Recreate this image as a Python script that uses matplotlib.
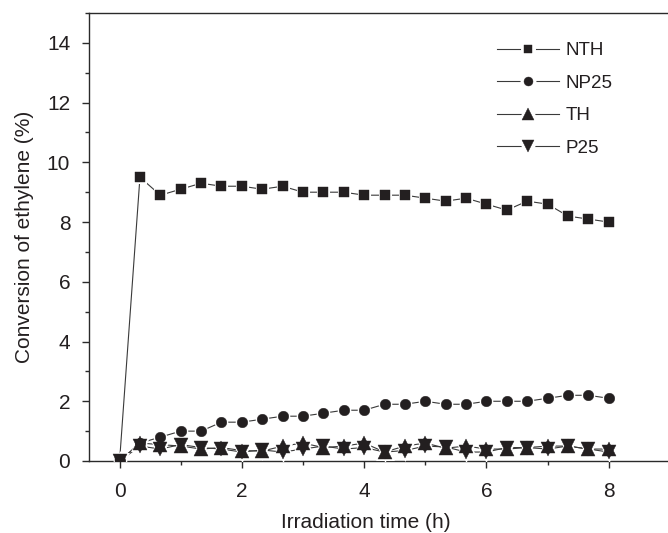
import numpy as np
import matplotlib
matplotlib.use("Agg")
import matplotlib.pyplot as plt
from matplotlib.lines import Line2D
from matplotlib.ticker import MultipleLocator

plt.rcParams['font.family'] = ['Liberation Sans', 'DejaVu Sans']

# irradiation time (h), one sample every 20 min
time_h = [0, 1/3, 2/3, 1, 4/3, 5/3, 2, 7/3, 8/3, 3, 10/3, 11/3, 4,
          13/3, 14/3, 5, 16/3, 17/3, 6, 19/3, 20/3, 7, 22/3, 23/3, 8]

nth = [0.0, 9.5, 8.9, 9.1, 9.3, 9.2, 9.2, 9.1, 9.2, 9.0, 9.0, 9.0, 8.9,
       8.9, 8.9, 8.8, 8.7, 8.8, 8.6, 8.4, 8.7, 8.6, 8.2, 8.1, 8.0]
np25 = [0.0, 0.6, 0.8, 1.0, 1.0, 1.3, 1.3, 1.4, 1.5, 1.5, 1.6, 1.7, 1.7,
        1.9, 1.9, 2.0, 1.9, 1.9, 2.0, 2.0, 2.0, 2.1, 2.2, 2.2, 2.1]
th = [0.0, 0.6, 0.55, 0.5, 0.4, 0.45, 0.35, 0.33, 0.5, 0.6, 0.45, 0.5, 0.6,
      0.3, 0.5, 0.6, 0.43, 0.5, 0.4, 0.4, 0.45, 0.5, 0.5, 0.4, 0.4]
p25 = [0.0, 0.5, 0.4, 0.55, 0.45, 0.4, 0.3, 0.37, 0.3, 0.4, 0.5, 0.4, 0.45,
       0.3, 0.35, 0.5, 0.47, 0.3, 0.3, 0.45, 0.45, 0.4, 0.5, 0.4, 0.3]

series = [("NTH", nth, 's', 7.0),
          ("NP25", np25, 'o', 7.6),
          ("TH", th, '^', 9.5),
          ("P25", p25, 'v', 9.5)]

ink = '#231f20'
line_col = '#3a3a3a'

fig = plt.figure(figsize=(6.68, 5.33), dpi=100)
ax = fig.add_axes([89/668, 72/533, 1 - 89/668, 448/533])

# connecting lines first
for name, vals, mk, ms in series:
    ax.plot(time_h, vals, '-', color=line_col, lw=0.8, zorder=2)
# white rings leave a small gap between line and marker
for name, vals, mk, ms in series:
    ax.plot(time_h, vals, ls='none', marker=mk, ms=ms, mfc=ink,
            mec='white', mew=2.2, zorder=3)
# solid markers on top so overlapping symbols merge
for name, vals, mk, ms in series:
    ax.plot(time_h, vals, ls='none', marker=mk, ms=ms, mfc=ink,
            mec=ink, mew=0.3, zorder=4)

ax.set_xlim(-0.5, (668 - 119.3) / 61.175)
ax.set_ylim(0, 15)
ax.xaxis.set_minor_locator(MultipleLocator(1))
ax.yaxis.set_minor_locator(MultipleLocator(1))
ax.set_yticks([0, 2, 4, 6, 8, 10, 12, 14])
ax.set_xticks([0, 2, 4, 6, 8])

ax.spines['right'].set_visible(False)
for s in ['left', 'bottom', 'top']:
    ax.spines[s].set_linewidth(1.0)
    ax.spines[s].set_color('#2a2a2a')

ax.tick_params(which='major', direction='out', length=5, width=1.0,
               color='#2a2a2a', labelsize=15, labelcolor=ink)
ax.tick_params(axis='x', which='major', pad=10)
ax.tick_params(axis='y', which='major', pad=8.5)
ax.tick_params(which='minor', direction='out', length=3, width=1.0,
               color='#2a2a2a')
ax.tick_params(axis='x', top=False, which='both')

ax.set_xlabel("Irradiation time (h)", fontsize=15, color=ink, labelpad=9)
ax.xaxis.label.set_x((366 - 89) / 579)
ax.set_ylabel("Conversion of ethylene (%)", fontsize=15, color=ink, labelpad=9)

handles = []
for name, vals, mk, ms in series:
    ring = Line2D([], [], color=line_col, lw=0.8, marker=mk, ms=ms * 0.85,
                  mfc=ink, mec='white', mew=5)
    solid = Line2D([], [], ls='none', marker=mk, ms=ms * 0.85, mfc=ink,
                   mec=ink, mew=0.3)
    handles.append((ring, solid))
labels = [name for name, vals, mk, ms in series]
leg = ax.legend(handles, labels, loc='upper left',
                bbox_to_anchor=(497 / 668, 1 - 42 / 533),
                bbox_transform=fig.transFigure, frameon=False,
                borderaxespad=0, borderpad=0, handlelength=3.3,
                handletextpad=0.35, labelspacing=0.82, numpoints=1,
                fontsize=13.5)
for t in leg.get_texts():
    t.set_color(ink)

fig.savefig("out.png", dpi=100)
